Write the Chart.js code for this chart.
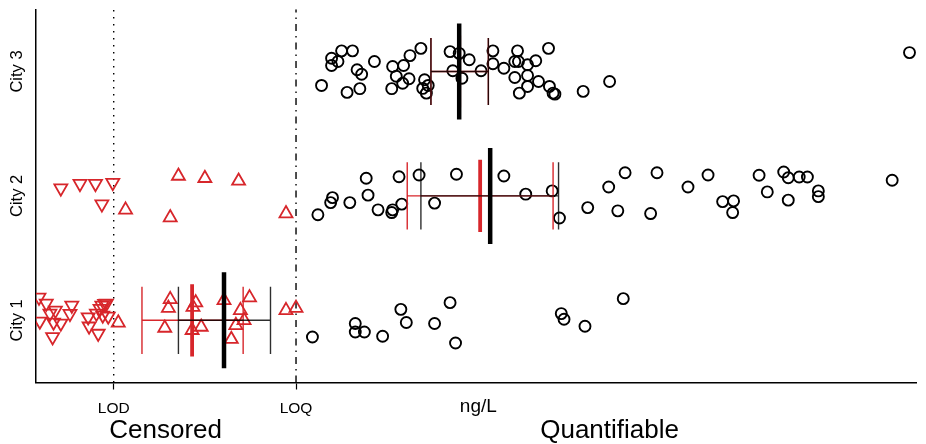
<!DOCTYPE html>
<html>
<head>
<meta charset="utf-8">
<script src="https://cdn.jsdelivr.net/npm/chart.js@4.4.0/dist/chart.umd.min.js"></script>
<style>
  html, body { margin: 0; padding: 0; background: #fff; }
</style>
</head>
<body>
<canvas id="chart" width="926" height="444"></canvas>
<script>
// categories and axis text
const cities = ['City 1', 'City 2', 'City 3'];
const LOD = 1, LOQ = 3;
const xTickLabels = ['LOD', 'LOQ', 'ng/L'];
const xTickValues = [LOD, LOQ, 5];
const groupLabels = ['Censored', 'Quantifiable'];
const groupLabelValues = [1.57, 6.44];

// City 1: quantifiable (circles), between LOD and LOQ (up triangles), below LOD (down triangles)
const c1Quant = [3.18, 3.65, 3.65, 3.75, 3.95, 4.15, 4.21, 4.52, 4.69, 4.75, 5.91, 5.94, 6.17, 6.59];
const c1QuantJit = [-0.134, -0.026, -0.094, -0.094, -0.128, 0.088, -0.018, -0.026, 0.142, -0.182, 0.054, 0.008, -0.048, 0.174];
const c1Btw = [1.05, 1.62, 1.60, 1.56, 1.87, 1.90, 1.86, 1.96, 2.21, 2.49, 2.39, 2.43, 2.34, 2.29, 2.89, 3.00];
const c1BtwJit = [-0.02, 0.168, 0.098, -0.062, 0.106, 0.142, -0.080, -0.054, 0.160, 0.182, 0.080, 0.000, -0.040, -0.152, 0.080, 0.098];
const c1Below = [0.18, 0.19, 0.26, 0.30, 0.36, 0.34, 0.42, 0.33, 0.54, 0.52, 0.72, 0.73, 0.83, 0.81, 0.85, 0.87, 0.90, 0.92, 0.88, 0.94];
const c1BelowJit = [0.184, -0.008, 0.136, 0.056, 0.080, -0.016, -0.024, -0.134, 0.120, 0.054, 0.026, -0.048, -0.106, 0.056, 0.094, 0.120, 0.134, 0.136, 0.040, 0.032];

// City 2
const c2Quant = [3.24, 3.38, 3.40, 3.59, 3.77, 3.79, 3.90, 4.05, 4.06, 4.13, 4.16, 4.35, 4.52, 4.76, 5.28, 5.52, 5.81, 5.89, 6.20, 6.43, 6.53, 6.61, 6.89, 6.96, 7.30, 7.52, 7.68, 7.80, 7.79, 8.08, 8.17, 8.35, 8.40, 8.52, 8.61, 8.40, 8.73, 8.73, 9.54];
const c2QuantJit = [-0.152, -0.054, -0.014, -0.054, 0.142, 0.006, -0.112, -0.134, -0.112, 0.154, -0.066, 0.168, -0.058, 0.174, 0.160, 0.014, 0.040, -0.178, -0.094, 0.072, -0.120, 0.186, -0.142, 0.186, 0.072, 0.168, -0.046, -0.040, -0.134, 0.166, 0.032, 0.192, 0.146, 0.152, 0.152, -0.034, 0.040, -0.006, 0.126];
const c2Btw = [1.71, 2.00, 2.37, 1.13, 1.62, 2.89];
const c2BtwJit = [0.160, 0.142, 0.120, -0.112, -0.174, -0.142];
const c2Below = [0.42, 0.63, 0.80, 0.99, 0.87];
const c2BelowJit = [0.062, 0.098, 0.098, 0.106, -0.066];

// City 3 (all quantifiable)
const c3Quant = [3.28, 3.39, 3.39, 3.46, 3.50, 3.56, 3.62, 3.67, 3.72, 3.70, 3.86, 4.05, 4.06, 4.10, 4.18, 4.17, 4.24, 4.25, 4.37, 4.41, 4.39, 4.45, 4.43, 4.69, 4.72, 4.79, 4.82, 4.90, 5.03, 5.16, 5.16, 5.28, 5.40, 5.43, 5.44, 5.54, 5.40, 5.54, 5.54, 5.45, 5.63, 5.66, 5.77, 5.78, 5.82, 5.84, 6.15, 6.44, 9.73];
const c3QuantJit = [-0.112, 0.106, 0.048, 0.080, 0.166, -0.168, 0.166, 0.014, -0.022, -0.138, 0.080, -0.138, 0.040, -0.038, 0.048, -0.094, -0.058, 0.128, 0.186, -0.066, -0.136, -0.112, -0.174, 0.160, 0.006, 0.146, -0.054, 0.094, 0.006, 0.166, 0.062, 0.026, 0.080, 0.166, 0.080, 0.054, -0.048, -0.032, -0.120, -0.174, 0.086, -0.080, 0.186, -0.120, -0.174, -0.182, -0.160, -0.080, 0.152];

// summary estimates per city (centre and interval)
const blackCentre = [2.21, 5.13, 4.79];
const blackLow = [1.71, 4.37, 4.48];
const blackHigh = [2.72, 5.88, 5.11];
const redCentre = [1.86, 5.02, 4.79];
const redLow = [1.31, 4.22, 4.48];
const redHigh = [2.42, 5.82, 5.11];

const RED = '#d7262b';
const FONT = "'Liberation Sans', Arial, sans-serif";
const X_MIN = 0.1475, X_MAX = 9.809;

function pts(vals, jit, city) {
  return vals.map((v, i) => ({ x: v, y: city + jit[i] }));
}
const GAP = { x: null, y: null };

function intervalSegs(low, high, cap) {
  const d = [];
  cities.forEach((c, i) => {
    const y = i + 1;
    d.push({ x: low[i], y }, { x: high[i], y }, GAP);
    d.push({ x: low[i], y: y - cap }, { x: low[i], y: y + cap }, GAP);
    d.push({ x: high[i], y: y - cap }, { x: high[i], y: y + cap }, GAP);
  });
  return d;
}
function centreSegs(centre, half) {
  const d = [];
  centre.forEach((v, i) => {
    d.push({ x: v, y: i + 1 - half }, { x: v, y: i + 1 + half }, GAP);
  });
  return d;
}

const circle = { pointStyle: 'circle', pointRadius: 5.5, borderWidth: 1.9, borderColor: '#000', backgroundColor: 'rgba(0,0,0,0)', order: 2 };
const upTri = { pointStyle: 'triangle', pointRadius: 7.5, borderWidth: 1.8, borderColor: RED, backgroundColor: 'rgba(0,0,0,0)', order: 2 };
const downTri = Object.assign({}, upTri, { pointRotation: 180 });
const segLine = { showLine: true, pointRadius: 0, spanGaps: false, borderCapStyle: 'butt' };

new Chart(document.getElementById('chart'), {
  type: 'scatter',
  data: {
    datasets: [
      Object.assign({ label: 'black centre', data: centreSegs(blackCentre, 0.386), borderColor: '#000', borderWidth: 4.5, order: 0 }, segLine),
      Object.assign({ label: 'black interval', data: intervalSegs(blackLow, blackHigh, 0.27), borderColor: 'rgba(0,0,0,0.82)', borderWidth: 1.4, order: 0 }, segLine),
      Object.assign({ label: 'red centre', data: centreSegs(redCentre, 0.29), borderColor: RED, borderWidth: 3.8, order: 1 }, segLine),
      Object.assign({ label: 'red interval', data: intervalSegs(redLow, redHigh, 0.27), borderColor: RED, borderWidth: 1.4, order: 1 }, segLine),

      Object.assign({ label: 'City 1 quant', data: pts(c1Quant, c1QuantJit, 1) }, circle),
      Object.assign({ label: 'City 2 quant', data: pts(c2Quant, c2QuantJit, 2) }, circle),
      Object.assign({ label: 'City 3 quant', data: pts(c3Quant, c3QuantJit, 3) }, circle),
      Object.assign({ label: 'City 1 <LOQ', data: pts(c1Btw, c1BtwJit, 1) }, upTri),
      Object.assign({ label: 'City 2 <LOQ', data: pts(c2Btw, c2BtwJit, 2) }, upTri),
      Object.assign({ label: 'City 1 <LOD', data: pts(c1Below, c1BelowJit, 1) }, downTri),
      Object.assign({ label: 'City 2 <LOD', data: pts(c2Below, c2BelowJit, 2) }, downTri),

      Object.assign({ label: 'LOD', data: [{ x: LOD, y: 0.5 }, { x: LOD, y: 3.5 }], borderColor: '#000', borderWidth: 1.4, borderDash: [1.5, 5.5], order: 3 }, segLine),
      Object.assign({ label: 'LOQ', data: [{ x: LOQ, y: 0.5 }, { x: LOQ, y: 3.5 }], borderColor: '#000', borderWidth: 1.4, borderDash: [7, 5, 1.5, 5], order: 3 }, segLine)
    ]
  },
  options: {
    responsive: false,
    animation: false,
    events: [],
    layout: { padding: { top: 7.5, right: 6, left: 0, bottom: 0 } },
    plugins: { legend: { display: false }, tooltip: { enabled: false } },
    scales: {
      x: {
        type: 'linear', position: 'bottom', min: X_MIN, max: X_MAX, weight: 0,
        afterBuildTicks: s => { s.ticks = xTickValues.map(v => ({ value: v })); },
        ticks: {
          callback: (v, i) => xTickLabels[i],
          color: '#000', padding: 9.5, autoSkip: false, maxRotation: 0, minRotation: 0,
          font: ctx => ctx.index === 2 ? { family: FONT, size: 19, lineHeight: 0.8 } : { family: FONT, size: 15.5 }
        },
        grid: {
          display: true, drawOnChartArea: false, drawTicks: true, tickLength: 7, tickWidth: 1.2,
          tickColor: ctx => ctx.index === 2 ? 'rgba(0,0,0,0)' : '#000'
        },
        border: { display: true, color: '#000', width: 1.5 },
        afterFit: s => { s.height = 36.5; }
      },
      y: {
        type: 'linear', min: 0.5, max: 3.5,
        afterBuildTicks: s => { s.ticks = cities.map((c, i) => ({ value: i + 1 })); },
        ticks: {
          callback: (v, i) => cities[i],
          color: '#000', font: { family: FONT, size: 16.5 },
          minRotation: 90, maxRotation: 90, crossAlign: 'center', padding: -2.5
        },
        grid: { display: false, drawTicks: false },
        border: { display: true, color: '#000', width: 1.5 },
        afterFit: s => { s.width = 36; }
      },
      x2: {
        type: 'linear', position: 'bottom', min: X_MIN, max: X_MAX, weight: 1,
        afterBuildTicks: s => { s.ticks = groupLabelValues.map(v => ({ value: v })); },
        ticks: {
          callback: (v, i) => groupLabels[i],
          color: '#000', padding: 0, autoSkip: false, maxRotation: 0, minRotation: 0,
          font: { family: FONT, size: 26, lineHeight: 0.92 }
        },
        grid: { display: false, drawTicks: false },
        border: { display: false },
        afterFit: s => { s.height = 25; }
      }
    }
  }
});
</script>
</body>
</html>
